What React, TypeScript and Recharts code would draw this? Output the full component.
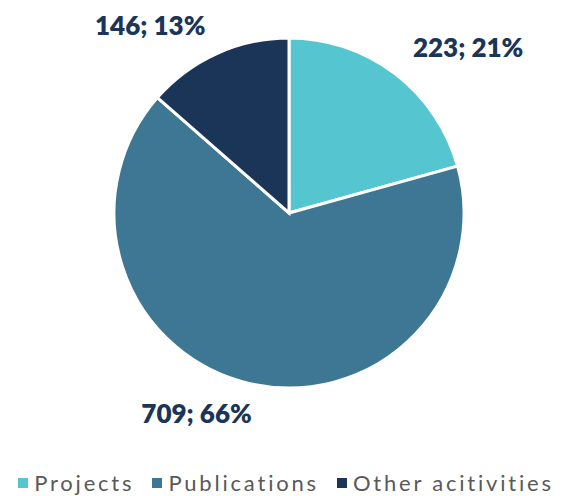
import { PieChart, Pie, Cell, Legend } from 'recharts';

const CATEGORIES = ['Projects', 'Publications', 'Other acitivities'];
const VALUES = [223, 709, 146];
const PERCENTS = [21, 66, 13];
const COLORS = ['#55C6D0', '#3E7793', '#1B3558'];
// label placement tweaks (degrees off the mid angle, distance from the centre)
const LABEL_SHIFT = [-10, -12, 12];
const LABEL_DIST = [244, 220, 234];

const data = CATEGORIES.map((name, i) => ({ name, value: VALUES[i], pct: PERCENTS[i] }));

const RAD = Math.PI / 180;

function renderLabel(props: any) {
  const { cx, cy, midAngle, index } = props;
  const a = (midAngle + LABEL_SHIFT[index]) * RAD;
  const x = cx + LABEL_DIST[index] * Math.cos(a);
  const y = cy - LABEL_DIST[index] * Math.sin(a);
  return (
    <text x={x} y={y} textAnchor="middle" dominantBaseline="central"
      style={{ fontFamily: 'Lato', fontWeight: 800, fontSize: 26, fill: '#1B3558' }}>
      {`${VALUES[index]}; ${PERCENTS[index]}%`}
    </text>
  );
}

function LegendContent() {
  return (
    <div style={{ display: 'flex', justifyContent: 'center', gap: 18, fontFamily: 'Lato', fontSize: 22, lineHeight: '26px', color: '#595959', letterSpacing: 2.8, width: 572 }}>
      {CATEGORIES.map((c, i) => (
        <div key={c} style={{ display: 'flex', alignItems: 'center', whiteSpace: 'nowrap' }}>
          <span style={{ width: 10, height: 10, background: COLORS[i], marginRight: 6, display: 'inline-block' }} />
          {c}
        </div>
      ))}
    </div>
  );
}

export default function App() {
  return (
    <div style={{ position: 'absolute', left: 0, top: 0, background: '#fff' }}>
      <PieChart width={572} height={496} margin={{ top: 0, right: 0, bottom: 0, left: 0 }}>
        <Pie
          data={data}
          dataKey="value"
          cx={289}
          cy={213}
          outerRadius={175}
          startAngle={90}
          endAngle={-270}
          stroke="#fff"
          strokeWidth={3}
          label={renderLabel}
          labelLine={false}
          isAnimationActive={false}
        >
          {data.map((_, i) => (
            <Cell key={i} fill={COLORS[i]} />
          ))}
        </Pie>
        <Legend verticalAlign="bottom" content={<LegendContent />} wrapperStyle={{ bottom: 0, left: 0, width: 572 }} />
      </PieChart>
    </div>
  );
}
